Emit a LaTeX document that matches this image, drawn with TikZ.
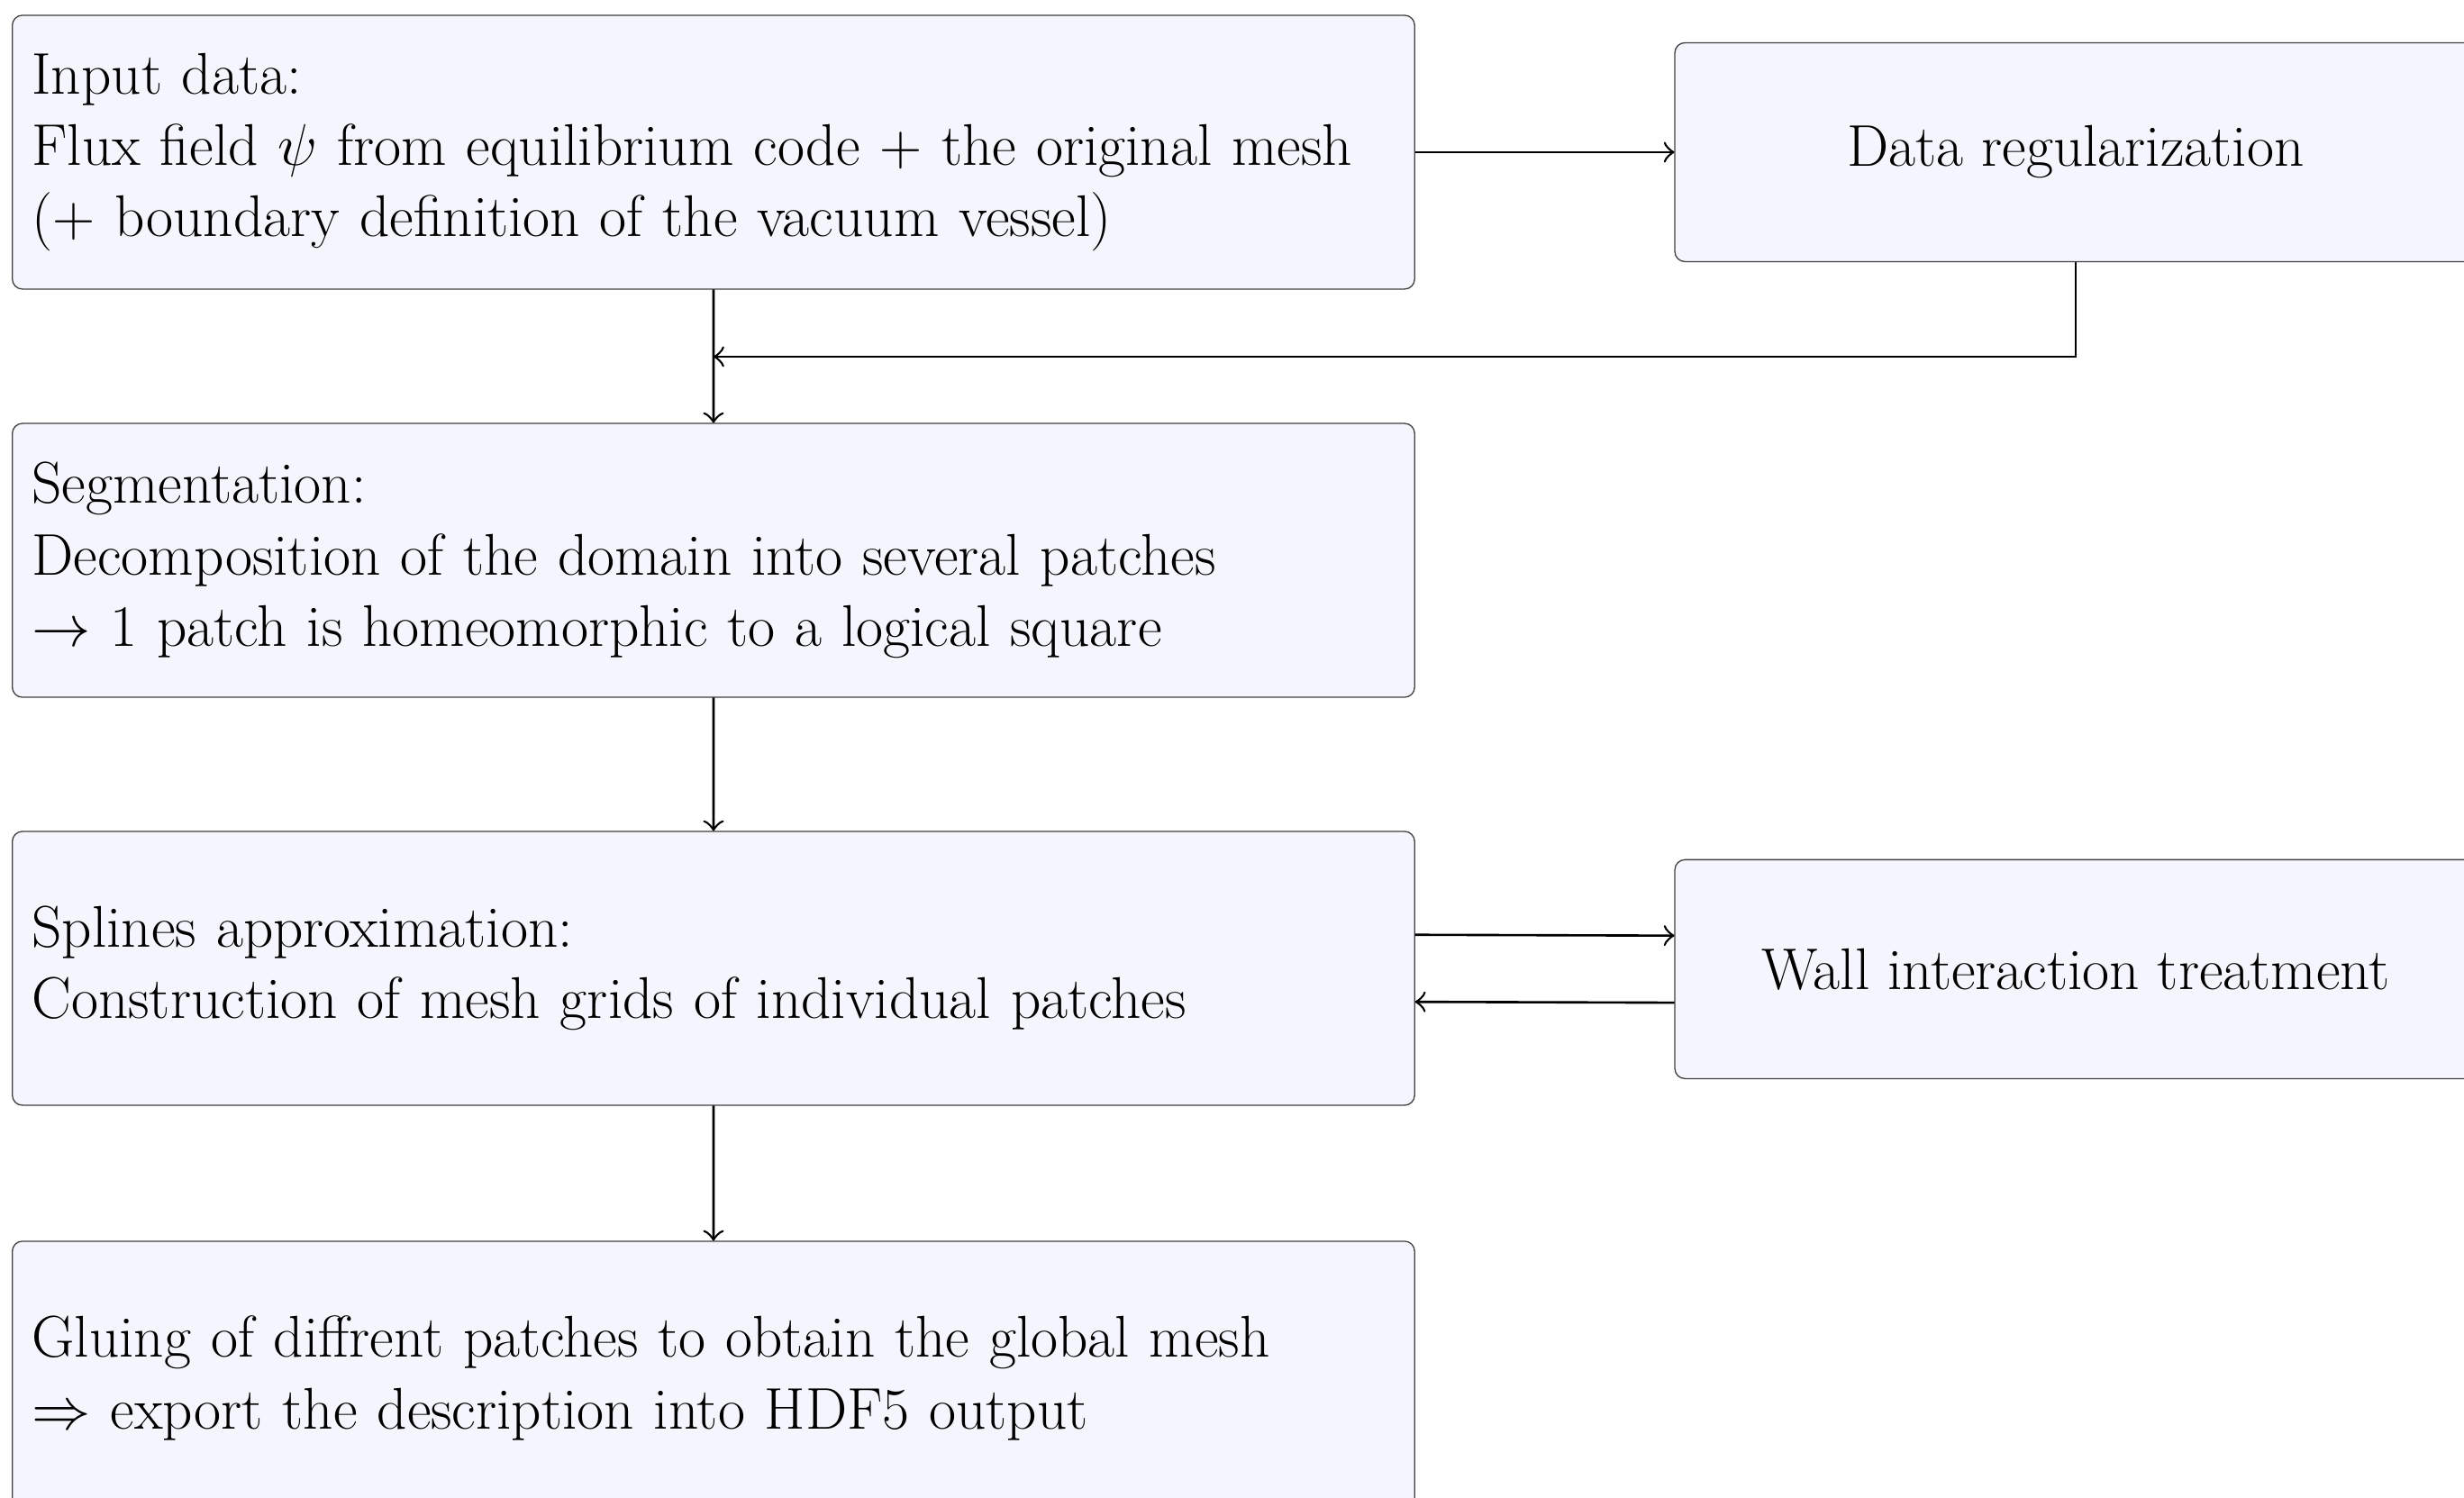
\documentclass[tikz,border=0pt]{standalone}
\definecolor{boxfill}{RGB}{245,246,253}
\begin{document}
\begin{tikzpicture}[
    block/.style={draw=black!75, very thin, fill=boxfill, rounded corners=1.73pt,
        scale=0.578, transform shape, font=\fontsize{17.28}{20.97}\selectfont,
        text width=14.066cm, align=left, minimum height=2.827cm, inner sep=0.2033cm},
    sideblock/.style={block, text width=, minimum width=8.275cm,
        minimum height=2.26cm, align=center},
    >=to]
 \useasboundingbox (0,0) rectangle (14.698,-8.937);
 \node[block] (input) at (4.256,-0.908)
    {Input data:\\
     Flux field $\psi$ from equilibrium code + the original mesh\\
     (+ boundary definition of the vacuum vessel)};
 \node[block] (segment) at (4.256,-3.343)
    {Segmentation:\\
     Decomposition of the domain into several patches\\
     $\rightarrow$ 1 patch is homeomorphic to a logical square};
 \node[block] (splines) at (4.256,-5.777)
    {Splines approximation:\\
     Construction of mesh grids of individual patches};
 \node[block] (gluing) at (4.256,-8.222)
    {Gluing of diffrent patches to obtain the global mesh\\
     $\Rightarrow$ export the description into HDF5 output};
 \node[sideblock] (regul) at (12.382,-0.908) {Data regularization};
 \node[sideblock] (wall) at (12.382,-5.782) {Wall interaction treatment};
 \coordinate (merge) at (4.256,-2.128);

 \draw[->] (input) -- (regul);
 \draw[->] (input) -- (segment);
 \draw[->] (regul.south) |- (merge);
 \draw[->] (segment) -- (splines);
 \draw[->] ([yshift=0.2cm]splines.east) -- ([yshift=0.2cm]wall.west);
 \draw[->] ([yshift=-0.2cm]wall.west) -- ([yshift=-0.2cm]splines.east);
 \draw[->] (splines) -- (gluing);
\end{tikzpicture}
\end{document}
